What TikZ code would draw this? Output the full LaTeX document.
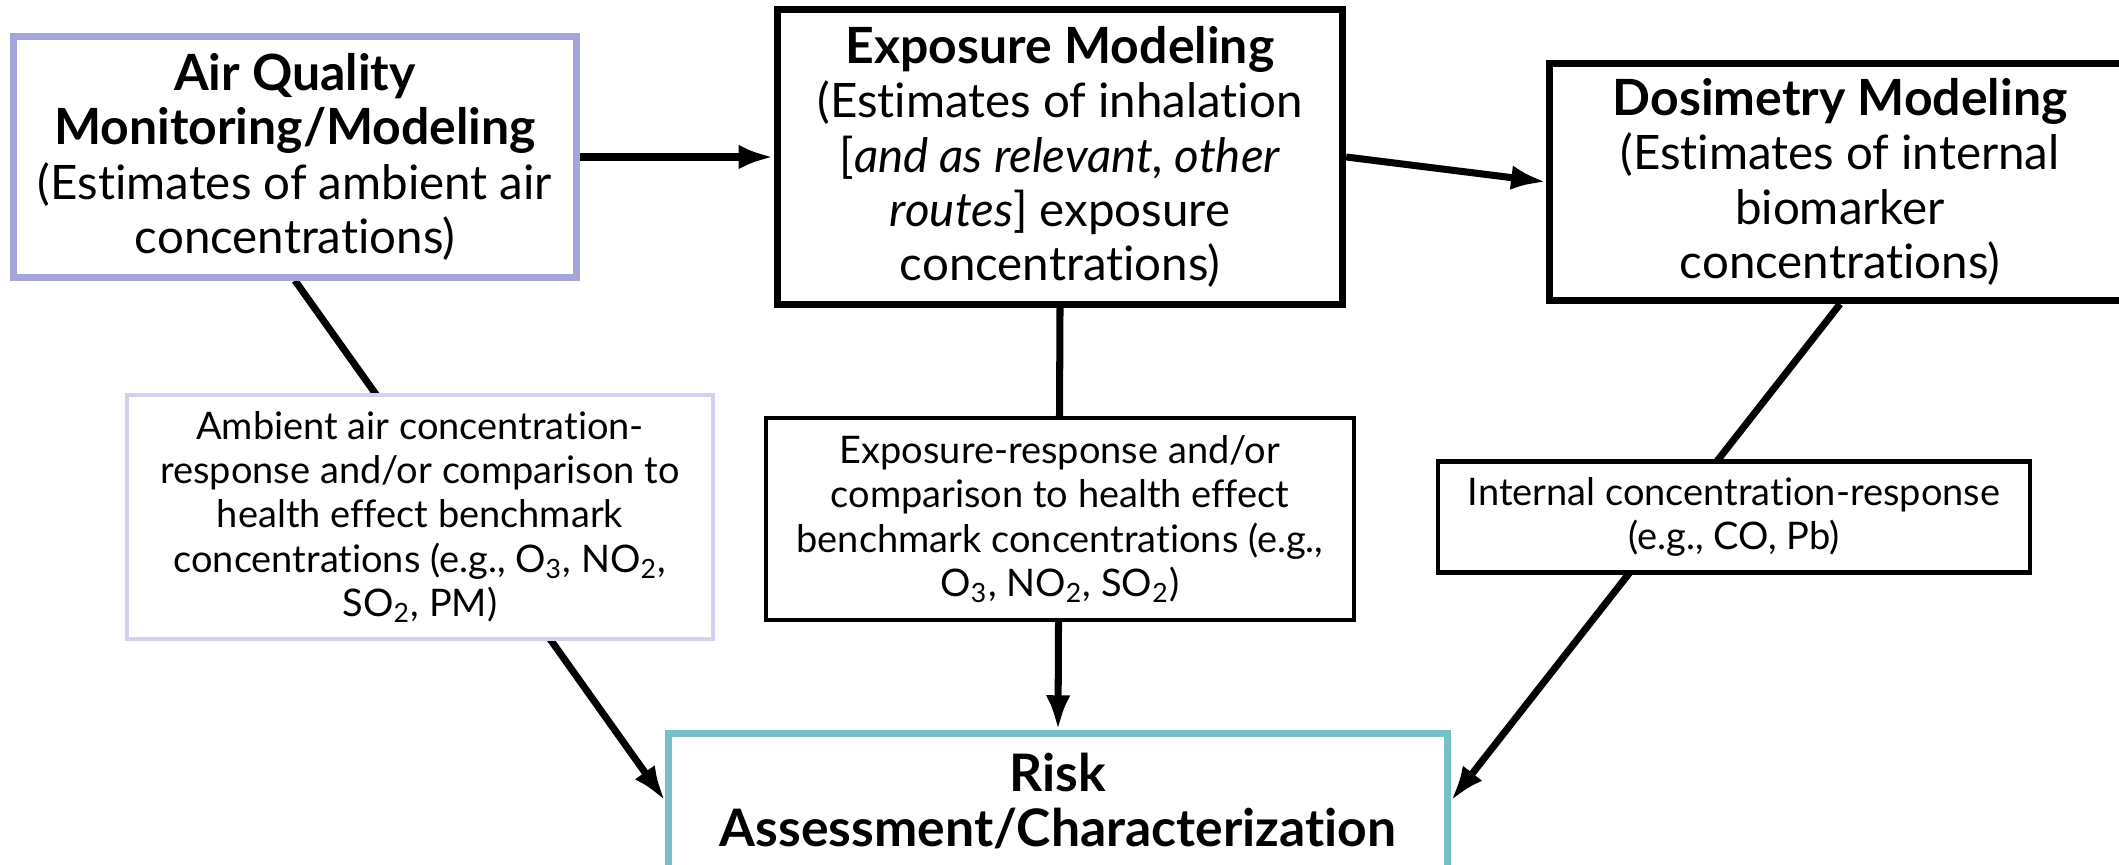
\documentclass[tikz,border=0pt]{standalone}
\usepackage{fontspec}
\setmainfont{Lato}[Ligatures=NoCommon]
\usetikzlibrary{arrows.meta, backgrounds}
\definecolor{aqblue}{RGB}{165,165,220}
\definecolor{ambblue}{RGB}{210,210,240}
\definecolor{riskteal}{RGB}{120,192,198}
\newcommand{\bigtxt}{\fontsize{13.5}{15.4}\selectfont}
\newcommand{\smalltxt}{\fontsize{10.8}{12.6}\selectfont}
\newcommand{\head}[1]{{\fontsize{14.2}{15.4}\selectfont\bfseries #1}}

\begin{document}
\begin{tikzpicture}[x=0.01cm, y=-0.01cm,
            mainbox/.style={draw, line width=2pt, fill=white, align=center, inner sep=0pt, font=\bigtxt},
            subbox/.style={draw, line width=1.3pt, fill=white, align=center, inner sep=0pt, font=\smalltxt},
            link/.style={line width=2pt},
            >={Latex[length=10pt, width=7pt]}]

        \useasboundingbox (0,0) rectangle (2119,865);
        \clip (0,0) rectangle (2119,865);

        \node[mainbox, draw=aqblue, minimum width=5.63cm, minimum height=2.40cm] (aq) at (295,157)
            {\head{Air Quality}\\ \head{Monitoring/Modeling}\\ (Estimates of ambient air\\ concentrations)};
        \node[mainbox, minimum width=5.65cm, minimum height=2.95cm] (exp) at (1060,157)
            {\head{Exposure Modeling}\\ (Estimates of inhalation\\ {[}\textit{and as relevant, other}\\ \textit{routes}] exposure\\ concentrations)};
        \node[mainbox, minimum width=5.80cm, minimum height=2.37cm] (dos) at (1840,182)
            {\head{Dosimetry Modeling}\\ (Estimates of internal\\ biomarker\\ concentrations)};

        \node[subbox, draw=ambblue, minimum width=5.86cm, minimum height=2.44cm] (amb) at (420,517)
            {Ambient air concentration-\\ response and/or comparison to\\ health effect benchmark\\ concentrations (e.g., O\textsubscript{3}, NO\textsubscript{2},\\ SO\textsubscript{2}, PM)};
        \node[subbox, minimum width=5.88cm, minimum height=2.02cm] (er) at (1060,519)
            {Exposure-response and/or\\ comparison to health effect\\ benchmark concentrations (e.g.,\\ O\textsubscript{3}, NO\textsubscript{2}, SO\textsubscript{2})};
        \node[subbox, minimum width=5.92cm, minimum height=1.11cm] (int) at (1734,517)
            {Internal concentration-response\\ (e.g., CO, Pb)};

        \node[mainbox, draw=riskteal, font=\fontsize{14.7}{15.4}\selectfont\bfseries, minimum width=7.78cm, minimum height=1.34cm] (risk) at (1058,801)
            {Risk\\ Assessment/Characterization};

        \draw[link,->] (aq.east) -- (exp.west);
        \draw[link,->] (exp.east) -- (dos.west);

        \begin{pgfonlayer}{background}
            \draw[link,->] (aq.south) -- (risk.west);
            \draw[link,->] (exp.south) -- (risk.north);
            \draw[link,->] (dos.south) -- (risk.east);
        \end{pgfonlayer}
    \end{tikzpicture}
\end{document}
